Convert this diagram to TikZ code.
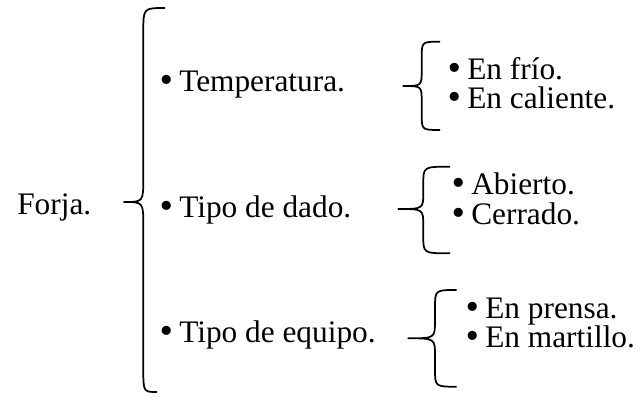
\documentclass[tikz,border=0pt]{standalone}
\usepackage{fontspec}
\setmainfont{Liberation Serif}
\newfontfamily\bulfont{DejaVu Sans}
\newcommand\bul{\llap{{\bulfont •}\hspace{2.6pt}}}
\tikzset{
  lbl/.style={anchor=base west, inner sep=0pt, font=\fontsize{23.5}{28}\selectfont},
  brace/.style={line width=1.3pt, line join=round}
}
% brace: #1 top-end x, #2 top y, #3 vertical x, #4 tip x, #5 tip y, #6 bottom y, #7 bottom-end x, #8 radius
\newcommand\mybrace[8]{%
  \draw[brace] (#1,#2) .. controls (#3,#2) and (#3,#2) .. (#3,#2+#8)
    -- (#3,#5-#8) .. controls (#3,#5) and (#3,#5) .. (#4,#5)
    .. controls (#3,#5) and (#3,#5) .. (#3,#5+#8)
    -- (#3,#6-#8) .. controls (#3,#6) and (#3,#6) .. (#7,#6);}
\begin{document}
\begin{tikzpicture}[x=0.75pt,y=-0.75pt]
\useasboundingbox (0,0) rectangle (641,396);
\node[lbl] (forja) at (17,214) {Forja.};
\node[lbl] (temp) at (179,91) {\bul Temperatura.};
\node[lbl] (dado) at (179,217) {\bul Tipo de dado.};
\node[lbl] (equipo) at (179,342) {\bul Tipo de equipo.};
\node[lbl] (frio) at (467,79) {\bul En frío.};
\node[lbl] (caliente) at (467,108) {\bul En caliente.};
\node[lbl] (abierto) at (471,194) {\bul Abierto.};
\node[lbl] (cerrado) at (471,224) {\bul Cerrado.};
\node[lbl] (prensa) at (485,318) {\bul En prensa.};
\node[lbl] (martillo) at (485,347) {\bul En martillo.};
\mybrace{165}{8}{143.3}{124}{202}{392}{157}{24}
\mybrace{440}{41.7}{421.7}{403.3}{86}{130}{440}{16}
\mybrace{450}{166.7}{423.3}{398.3}{209}{253.3}{450}{17}
\mybrace{456.7}{290}{435}{408.3}{338.3}{386.7}{456.7}{18}
\end{tikzpicture}
\end{document}
